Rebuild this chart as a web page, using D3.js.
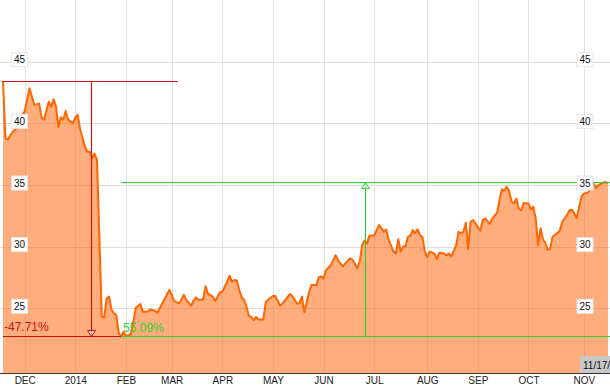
<!DOCTYPE html>
<html>
<head>
<meta charset="utf-8">
<script src="https://cdn.jsdelivr.net/npm/d3@7"></script>
<style>
  body { margin: 0; background: #fff; }
  svg text { font-family: "Liberation Sans", Arial, sans-serif; }
</style>
</head>
<body>
<svg id="chart" width="610" height="389"></svg>
<script>
// closing prices, [trading day index from 11/18/2013, price]
const closes = [
  [0,43.45],[1,38.8],[2,38.7],[4,39.3],[6,39.7],[7,40.3],[9,41.0],[11,42.85],[13,41.5],[15,41.6],
  [16,40.5],[17,40.3],[19,41.75],[20,41.35],[21,41.95],[22,41.35],[23,39.7],[24,40.5],[25,40.3],[26,41.0],
  [27,40.3],[29,40.0],[30,40.5],[31,40.7],[32,39.5],[34,38.1],[35,37.7],[36,37.7],[37,37.2],[38,37.55],
  [39,37.0],[41,24.3],[42,24.25],[43,25.8],[44,25.95],[45,24.9],[46,24.6],[47,24.45],[48,23.0],[49,22.72],
  [50,23.1],[51,22.75],[53,22.9],[54,23.8],[55,25.0],[57,25.35],[58,24.73],[60,24.73],[61,24.9],[63,24.8],
  [64,24.65],[65,25.0],[67,25.73],[69,26.5],[70,26.1],[71,25.6],[73,25.4],[74,25.7],[75,26.1],[76,25.7],
  [78,25.2],[79,25.6],[80,25.9],[81,25.7],[83,25.7],[84,26.8],[85,26.2],[87,25.95],[88,25.6],[89,25.95],
  [90,26.3],[91,26.35],[92,26.75],[93,27.15],[94,27.65],[95,27.15],[96,27.3],[97,27.25],[98,26.5],[99,25.9],
  [100,25.7],[101,25.15],[102,24.4],[103,24.3],[104,24.05],[105,24.3],[106,24.1],[108,24.1],[109,25.5],[110,25.7],
  [112,26.0],[113,26.0],[115,25.2],[116,25.4],[119,26.15],[120,26.0],[122,25.4],[123,25.4],[124,25.95],[125,24.7],
  [127,26.3],[128,26.9],[130,26.9],[131,27.5],[132,27.6],[133,27.4],[134,28.1],[136,28.5],[137,28.9],[138,29.3],
  [139,28.9],[141,28.4],[142,28.65],[144,29.05],[145,28.95],[147,28.25],[148,28.8],[149,30.1],[150,30.5],[151,30.25],
  [152,30.9],[154,30.9],[156,31.75],[157,31.5],[158,31.2],[159,31.4],[160,30.55],[162,29.6],[163,29.45],[164,30.6],
  [165,29.6],[166,30.0],[167,30.05],[168,30.8],[169,30.9],[170,31.35],[171,31.1],[172,31.4],[173,30.95],[174,30.8],
  [175,29.6],[176,29.15],[177,29.6],[179,29.45],[180,29.0],[181,29.5],[183,29.45],[184,29.3],[185,29.45],[186,29.2],
  [188,30.1],[189,31.2],[190,31.1],[191,31.2],[192,31.95],[193,29.8],[194,32.0],[195,32.15],[197,31.6],[198,31.3],
  [199,32.15],[200,32.3],[202,31.85],[203,32.3],[205,32.75],[206,33.8],[207,34.65],[208,34.55],[209,34.85],[210,34.5],
  [211,33.65],[212,33.5],[213,33.9],[214,33.1],[215,32.95],[216,33.55],[218,33.5],[219,33.0],[220,33.25],[221,32.3],
  [222,30.1],[223,31.5],[224,30.6],[225,30.3],[226,29.75],[227,29.8],[228,30.8],[230,31.1],[231,31.3],[232,32.0],
  [234,32.55],[235,32.95],[236,33.0],[237,32.7],[238,32.3],[240,34.05],[241,34.3],[242,34.35],[243,34.45],[244,35.15],
  [245,35.2],[246,34.75],[247,35.0],[249,35.2],[250,35.24],[251,35.15]
];

// first trading day of each month
const monthIdx = [9, 30, 51, 70, 91, 112, 133, 154, 176, 197, 218, 241];
const monthLabels = ["DEC", "2014", "FEB", "MAR", "APR", "MAY", "JUN", "JUL", "AUG", "SEP", "OCT", "NOV"];
const priceTicks = [25, 30, 35, 40, 45];
const lastDate = "11/17/14";

// high -> low -> high measurements (positions in trading-day index)
const drop = { text: "-47.71%", markAt: 36.5, topEnd: 72.5 };
const rise = { text: "55.09%", markAt: 150.2 };

const svg = d3.select("#chart"),
    width = +svg.attr("width"),
    height = 373;

const x = d3.scaleLinear().domain([0, 251]).range([3, 608]);
const y = d3.scaleLinear().domain([20, 45]).range([370, 61.7]);
const px = v => Math.round(v) + 0.5; // snap thin lines

// grid
svg.append("g")
    .selectAll("line")
    .data(monthIdx)
    .join("line")
    .attr("x1", d => px(x(d))).attr("x2", d => px(x(d)))
    .attr("y1", 0).attr("y2", height)
    .attr("stroke", "#e3e3e3");

svg.append("g")
    .selectAll("line")
    .data(priceTicks)
    .join("line")
    .attr("x1", 0).attr("x2", width)
    .attr("y1", d => px(y(d))).attr("y2", d => px(y(d)))
    .attr("stroke", "#dcdcdc");

// area + line
const area = d3.area()
    .x(d => x(d[0]))
    .y0(height)
    .y1(d => y(d[1]));

const line = d3.line()
    .x(d => x(d[0]))
    .y(d => y(d[1]));

svg.append("path")
    .datum(closes)
    .attr("d", area)
    .attr("fill", "#ff6a10")
    .attr("fill-opacity", 0.55);

svg.append("path")
    .datum(closes)
    .attr("d", line)
    .attr("fill", "none")
    .attr("stroke", "#ff6600")
    .attr("stroke-width", 2)
    .attr("stroke-linejoin", "round");

// measurement lines
const startP = closes[0];
const lowP = closes.reduce((a, b) => b[1] < a[1] ? b : a);
const highP = closes.filter(d => d[0] > lowP[0]).reduce((a, b) => b[1] > a[1] ? b : a);

const red = "#cc1111", green = "#33cc33";
const ann = svg.append("g");

function seg(x1, y1, x2, y2, color) {
    ann.append("line")
        .attr("x1", x1).attr("y1", y1).attr("x2", x2).attr("y2", y2)
        .attr("stroke", color).attr("stroke-width", 1.2);
}

const yTop = px(y(startP[1])), yLow = px(y(lowP[1])), yHigh = px(y(highP[1]));
const xDrop = px(x(drop.markAt)), xRise = px(x(rise.markAt)), xLow = x(lowP[0]);

seg(x(startP[0]), yTop, x(drop.topEnd), yTop, red);
seg(x(startP[0]), yLow, xLow, yLow, red);
seg(xDrop, yTop, xDrop, yLow, red);

seg(xLow, yHigh, width, yHigh, green);
seg(xLow, yLow, width, yLow, green);
seg(xRise, yHigh, xRise, yLow, green);

// arrow heads (hollow)
svg.append("path")
    .attr("d", `M${xDrop - 4},${yLow - 6}L${xDrop + 4},${yLow - 6}L${xDrop},${yLow}Z`)
    .attr("fill", "#fff").attr("fill-opacity", 0.6).attr("stroke", red);
svg.append("path")
    .attr("d", `M${xRise - 4},${yHigh + 6}L${xRise + 4},${yHigh + 6}L${xRise},${yHigh}Z`)
    .attr("fill", "#fff").attr("fill-opacity", 0.6).attr("stroke", green);

svg.append("text")
    .attr("x", 4).attr("y", yLow - 6)
    .attr("fill", red).attr("font-size", 12)
    .text(drop.text);
svg.append("text")
    .attr("x", xLow + 2).attr("y", yLow - 5)
    .attr("fill", green).attr("font-size", 12)
    .text(rise.text);

// price labels on both sides
[19.5, 585].forEach(cx => {
    const g = svg.append("g")
        .selectAll("g")
        .data(priceTicks)
        .join("g")
        .attr("transform", d => `translate(${cx},${y(d) - 2})`);
    g.append("rect")
        .attr("x", -8).attr("y", -7).attr("width", 16).attr("height", 14)
        .attr("fill", "#fff").attr("stroke", "#e6e6e6");
    g.append("text")
        .attr("text-anchor", "middle").attr("dy", "0.35em")
        .attr("font-size", 10).attr("fill", "#111")
        .text(d => d);
});

// bottom axis
const xAxis = d3.axisBottom(x)
    .tickValues(monthIdx)
    .tickFormat((d, i) => monthLabels[i])
    .tickSize(0)
    .tickPadding(4);

const ax = svg.append("g")
    .attr("transform", `translate(0,${height})`)
    .call(xAxis);
ax.select(".domain").attr("d", `M0,0.5H${width}`).attr("stroke", "#333");
ax.selectAll("text")
    .attr("font-size", 10).attr("fill", "#222")
    .style("font-family", "'Liberation Sans', Arial, sans-serif");

// last date tag, cut by the right edge as in the original
const tag = svg.append("g").attr("transform", `translate(580,356)`);
tag.append("rect").attr("width", 44).attr("height", 17).attr("fill", "#c8c8c8");
tag.append("text").attr("x", 3).attr("y", 13)
    .attr("font-size", 10).attr("fill", "#111")
    .text(lastDate);
</script>
</body>
</html>
